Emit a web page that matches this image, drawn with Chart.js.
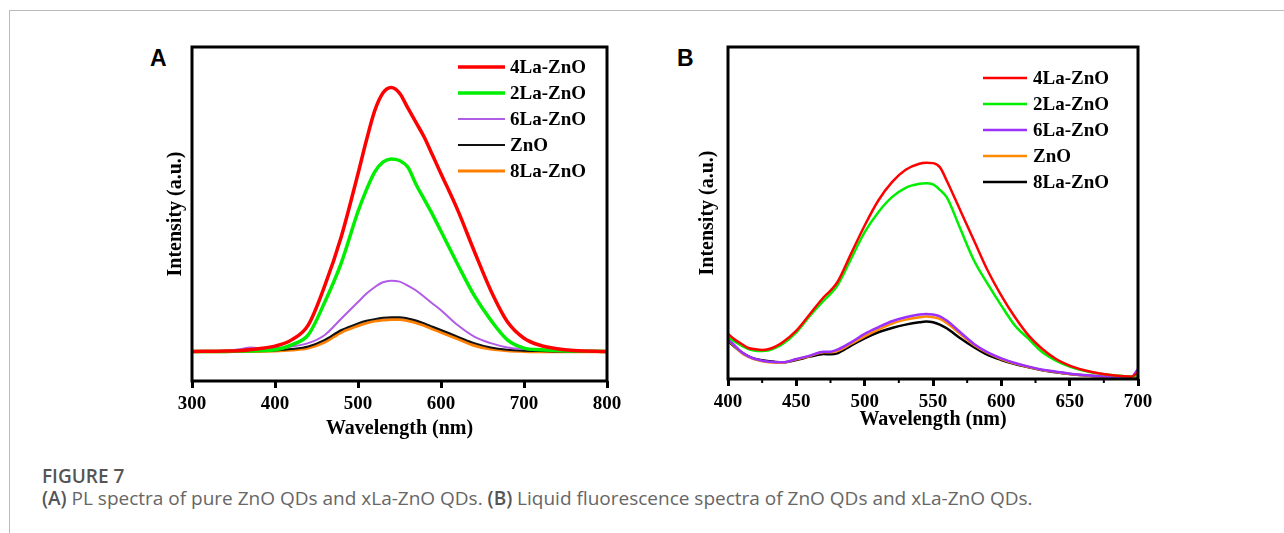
<!DOCTYPE html>
<html>
<head>
<meta charset="utf-8">
<script src="https://cdn.jsdelivr.net/npm/chart.js@4.4.1/dist/chart.umd.min.js"></script>
<style>
    html, body { margin: 0; padding: 0; background: #fff; }
    body { width: 1284px; height: 533px; position: relative; overflow: hidden; }
    .frame { position: absolute; left: 9px; top: 10px; right: -2px; bottom: -2px; border-top: 1px solid #bbb; border-left: 1px solid #bbb; }
    .panel { position: absolute; top: 37px; width: 500px; height: 410px; }
    .letter { position: absolute; font: bold 23px "Liberation Sans", Arial, sans-serif; color: #000; }
    .caption { position: absolute; left: 42px; font-family: "Open Sans", "Noto Sans", sans-serif; font-size: 19px; line-height: 22px; color: #666; white-space: nowrap; }
    .caption b { font-weight: 600; color: #555; }
</style>
</head>
<body>
<div class="frame"></div>
<div class="letter" style="left:150px; top:45px;">A</div>
<div class="letter" style="left:677px; top:45px;">B</div>
<div class="panel" style="left:130px;"><canvas id="chartA" width="500" height="410"></canvas></div>
<div class="panel" style="left:665px;"><canvas id="chartB" width="500" height="410"></canvas></div>
<div class="caption" style="top:465px; font-weight:600; color:#555;">FIGURE 7</div>
<div class="caption" style="top:487px;"><b>(A)</b> PL spectra of pure ZnO QDs and xLa-ZnO QDs. <b>(B)</b> Liquid fluorescence spectra of ZnO QDs and xLa-ZnO QDs.</div>

<script>
// Panel A: PL spectra
const wavelengthA = [300, 340, 360, 370, 380, 400, 420, 440, 460, 480, 500, 510, 520, 530, 540, 550, 560, 570, 580, 590, 600, 620, 640, 660, 680, 700, 720, 740, 760, 800];
const la4A  = [90, 91, 93, 95, 98, 106, 125, 170, 290, 440, 630, 730, 820, 875, 892, 875, 830, 785, 740, 685, 630, 520, 395, 275, 180, 130, 108, 98, 93, 90];
const la2A  = [90, 90, 91, 91, 92, 95, 110, 140, 240, 360, 515, 580, 635, 665, 675, 670, 650, 597, 551, 505, 455, 355, 260, 185, 125, 100, 95, 93, 91, 90];
const la6A  = [90, 92, 97, 102, 100, 100, 105, 115, 140, 190, 240, 265, 285, 300, 305, 302, 290, 275, 255, 235, 215, 170, 135, 115, 102, 97, 94, 92, 91, 90];
const znoA  = [90, 90, 91, 92, 92, 93, 97, 105, 125, 155, 175, 183, 188, 192, 194, 194, 190, 184, 175, 165, 155, 135, 115, 102, 95, 92, 91, 90, 90, 90];
const la8A  = [89, 89, 90, 90, 90, 91, 94, 100, 118, 148, 168, 176, 182, 185, 187, 187, 183, 177, 168, 158, 148, 128, 108, 97, 92, 90, 89, 89, 89, 89];
const ticksA = [300, 400, 500, 600, 700, 800];

// Panel B: liquid fluorescence spectra
const wavelengthB = [400, 405, 410, 415, 420, 425, 430, 435, 440, 450, 460, 470, 475, 480, 490, 500, 510, 520, 530, 540, 545, 550, 555, 560, 570, 580, 590, 600, 610, 620, 630, 640, 650, 660, 670, 680, 690, 695, 700];
const la4B  = [135, 118, 105, 93, 89, 87, 90, 98, 110, 145, 195, 245, 265, 290, 375, 460, 535, 590, 627, 645, 648, 647, 635, 595, 505, 415, 325, 250, 185, 130, 90, 60, 40, 27, 18, 12, 8, 7, 20];
const la2B  = [125, 112, 100, 90, 85, 84, 86, 94, 105, 140, 190, 235, 255, 280, 360, 440, 500, 545, 573, 585, 587, 583, 567, 545, 450, 355, 285, 220, 160, 120, 80, 55, 37, 25, 17, 12, 8, 7, 12];
const la6B  = [120, 100, 80, 68, 60, 55, 52, 50, 50, 60, 70, 82, 82, 88, 110, 135, 155, 173, 185, 193, 195, 193, 188, 175, 140, 105, 80, 62, 48, 37, 28, 22, 16, 12, 9, 7, 5, 6, 30];
const znoB  = [118, 98, 78, 66, 58, 53, 50, 49, 49, 59, 69, 80, 80, 84, 105, 128, 148, 166, 178, 185, 187, 185, 180, 168, 135, 102, 78, 60, 46, 36, 27, 21, 15, 11, 8, 6, 5, 5, 10];
const la8B  = [115, 96, 80, 68, 60, 56, 53, 51, 50, 57, 67, 75, 74, 77, 100, 122, 140, 153, 163, 170, 172, 170, 163, 152, 122, 95, 72, 57, 45, 35, 26, 20, 15, 11, 8, 7, 6, 6, 7];
const ticksB = [400, 450, 500, 550, 600, 650, 700];
const minorTicksB = [425, 475, 525, 575, 625, 675];

const serif = '"Liberation Serif", "Times New Roman", serif';

function toPoints(xs, ys) {
    return xs.map((x, i) => ({ x: x, y: ys[i] }));
}

function series(label, xs, ys, color, width) {
    return {
        label: label,
        data: toPoints(xs, ys),
        borderColor: color,
        backgroundColor: color,
        borderWidth: width,
        pointRadius: 0,
        cubicInterpolationMode: 'monotone',
        fill: false
    };
}

// box around the plot, minor ticks and the inside legend
const framePlugin = {
    id: 'frame',
    afterDraw(chart, args, opts) {
        const { ctx, chartArea: a } = chart;
        ctx.save();
        ctx.strokeStyle = '#000';
        ctx.lineWidth = 3;
        ctx.strokeRect(a.left, a.top, a.right - a.left, a.bottom - a.top);

        const xs = chart.scales.x;
        ctx.lineWidth = 2;
        (opts.minor || []).forEach(v => {
            const px = xs.getPixelForValue(v);
            ctx.beginPath();
            ctx.moveTo(px, a.bottom);
            ctx.lineTo(px, a.bottom + 4);
            ctx.stroke();
        });

        ctx.font = 'bold 19px ' + serif;
        ctx.textBaseline = 'middle';
        ctx.textAlign = 'left';
        chart.data.datasets.forEach((ds, i) => {
            const y = a.top + opts.legendTop + i * opts.legendGap;
            ctx.strokeStyle = ds.borderColor;
            ctx.lineWidth = Math.max(2, ds.borderWidth);
            ctx.beginPath();
            ctx.moveTo(a.right - opts.lineStart, y);
            ctx.lineTo(a.right - opts.lineEnd, y);
            ctx.stroke();
            ctx.fillStyle = '#000';
            ctx.fillText(ds.label, a.right - opts.textStart, y + 1);
        });
        ctx.restore();
    }
};

function makeOptions(cfg) {
    return {
        responsive: false,
        animation: false,
        layout: { padding: { top: cfg.padTop, right: cfg.padRight, left: 0, bottom: 0 } },
        plugins: {
            legend: { display: false },
            tooltip: { enabled: false },
            frame: cfg.frame
        },
        scales: {
            x: {
                type: 'linear',
                min: cfg.xMin,
                max: cfg.xMax,
                afterBuildTicks: scale => { scale.ticks = cfg.ticks.map(v => ({ value: v })); },
                afterFit: scale => { scale.height = cfg.xHeight; },
                ticks: {
                    color: '#000',
                    font: { family: serif, size: 19, weight: 'bold' },
                    padding: 5,
                    maxRotation: 0,
                    autoSkip: false
                },
                grid: { display: true, drawOnChartArea: false, drawTicks: true, tickLength: 7, color: '#000', lineWidth: 3 },
                border: { display: false },
                title: {
                    display: true,
                    text: 'Wavelength (nm)',
                    color: '#000',
                    font: { family: serif, size: 20, weight: 'bold' },
                    padding: { top: 0, bottom: cfg.xTitlePad }
                }
            },
            y: {
                min: 0,
                max: cfg.yMax,
                afterFit: scale => { scale.width = cfg.yWidth; },
                ticks: { display: false },
                grid: { display: false },
                border: { display: false },
                title: {
                    display: true,
                    text: 'Intensity (a.u.)',
                    color: '#000',
                    font: { family: serif, size: 20, weight: 'bold' },
                    padding: { top: cfg.yTitlePad, bottom: 0 }
                }
            }
        }
    };
}

new Chart(document.getElementById('chartA'), {
    type: 'line',
    data: {
        datasets: [
            series('4La-ZnO', wavelengthA, la4A, '#ff0000', 3.5),
            series('2La-ZnO', wavelengthA, la2A, '#00ee00', 3.5),
            series('6La-ZnO', wavelengthA, la6A, '#b05ce6', 2),
            series('ZnO', wavelengthA, znoA, '#111111', 2),
            series('8La-ZnO', wavelengthA, la8A, '#ff7f00', 3)
        ]
    },
    options: makeOptions({
        padTop: 10, padRight: 23, yWidth: 62, xHeight: 66,
        xMin: 300, xMax: 800, yMax: 1015, ticks: ticksA,
        xTitlePad: 6, yTitlePad: 34,
        frame: { minor: [], legendTop: 20, legendGap: 26, lineStart: 149, lineEnd: 102, textStart: 97 }
    }),
    plugins: [framePlugin]
});

new Chart(document.getElementById('chartB'), {
    type: 'line',
    data: {
        datasets: [
            series('4La-ZnO', wavelengthB, la4B, '#ff0000', 2.5),
            series('2La-ZnO', wavelengthB, la2B, '#00ee00', 2.5),
            series('6La-ZnO', wavelengthB, la6B, '#9b30ff', 2.5),
            series('ZnO', wavelengthB, znoB, '#ff8c00', 2.5),
            series('8La-ZnO', wavelengthB, la8B, '#000000', 2.5)
        ]
    },
    options: makeOptions({
        padTop: 10, padRight: 27, yWidth: 63, xHeight: 68,
        xMin: 400, xMax: 700, yMax: 995, ticks: ticksB,
        xTitlePad: 15, yTitlePad: 31,
        frame: { minor: minorTicksB, legendTop: 31, legendGap: 26, lineStart: 155, lineEnd: 111, textStart: 105 }
    }),
    plugins: [framePlugin]
});
</script>
</body>
</html>
